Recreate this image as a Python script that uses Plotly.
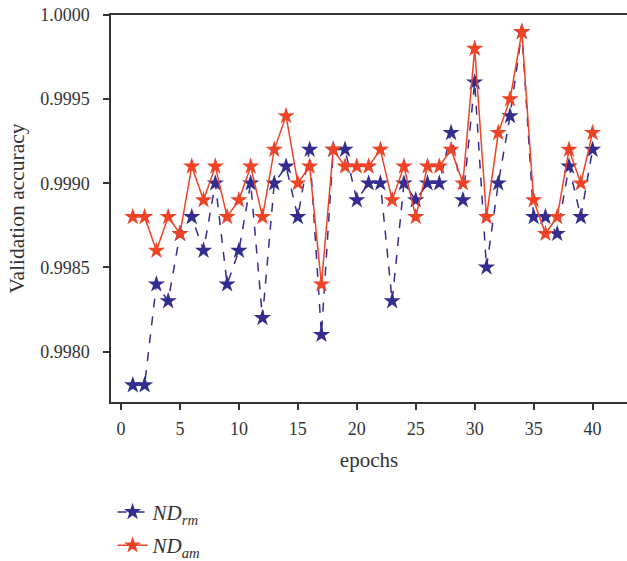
import plotly.graph_objects as go

epochs = list(range(1, 41))
nd_rm = [0.9978, 0.9978, 0.9984, 0.9983, 0.9987, 0.9988, 0.9986, 0.9990, 0.9984, 0.9986,
         0.9990, 0.9982, 0.9990, 0.9991, 0.9988, 0.9992, 0.9981, 0.9992, 0.9992, 0.9989,
         0.9990, 0.9990, 0.9983, 0.9990, 0.9989, 0.9990, 0.9990, 0.9993, 0.9989, 0.9996,
         0.9985, 0.9990, 0.9994, 0.9999, 0.9988, 0.9988, 0.9987, 0.9991, 0.9988, 0.9992]
nd_am = [0.9988, 0.9988, 0.9986, 0.9988, 0.9987, 0.9991, 0.9989, 0.9991, 0.9988, 0.9989,
         0.9991, 0.9988, 0.9992, 0.9994, 0.9990, 0.9991, 0.9984, 0.9992, 0.9991, 0.9991,
         0.9991, 0.9992, 0.9989, 0.9991, 0.9988, 0.9991, 0.9991, 0.9992, 0.9990, 0.9998,
         0.9988, 0.9993, 0.9995, 0.9999, 0.9989, 0.9987, 0.9988, 0.9992, 0.9990, 0.9993]
x_ticks = [0, 5, 10, 15, 20, 25, 30, 35, 40]
y_ticks = [0.9980, 0.9985, 0.9990, 0.9995, 1.0000]
y_labels = ["0.9980", "0.9985", "0.9990", "0.9995", "1.0000"]

BLUE = "#322d8e"
RED = "#ef4327"
FONT = "Liberation Serif"
TXT = "#333333"

fig = go.Figure()
fig.add_trace(go.Scatter(
    x=epochs, y=nd_rm, mode="lines+markers", name="<i>ND<sub>rm</sub></i>",
    legendgroup="a",
    line=dict(color=BLUE, width=1.5, dash="dash"),
    marker=dict(symbol="star", size=13, color=BLUE, line=dict(width=0)),
))
fig.add_trace(go.Scatter(
    x=epochs, y=nd_am, mode="lines+markers", name="<i>ND<sub>am</sub></i>",
    legendgroup="b",
    line=dict(color=RED, width=1.5),
    marker=dict(symbol="star", size=13, color=RED, line=dict(width=0)),
))

axis_common = dict(showline=True, linecolor=TXT, linewidth=1.5, ticks="outside",
                   tickcolor=TXT, tickwidth=1.5, ticklen=6, showgrid=False, zeroline=False,
                   tickfont=dict(family=FONT, size=18, color=TXT))

fig.update_layout(
    width=627, height=561,
    margin=dict(l=111, r=0, t=15, b=159, autoexpand=False),
    plot_bgcolor="white", paper_bgcolor="white",
    font=dict(family=FONT, color=TXT),
    xaxis=dict(range=[-0.85, 42.92], tickvals=x_ticks, mirror=True, ticklabelstandoff=4,
               title=dict(text="epochs", font=dict(family=FONT, size=21, color=TXT), standoff=14),
               **axis_common),
    yaxis=dict(range=[0.99770, 1.0000], tickvals=y_ticks, ticktext=y_labels, mirror=False,
               ticklabelstandoff=10,
               title=dict(text="Validation accuracy", font=dict(family=FONT, size=21.5, color=TXT), standoff=10),
               **axis_common),
    legend=dict(x=0.003, y=-0.232, xanchor="left", yanchor="top",
                font=dict(family=FONT, size=21, color=TXT),
                tracegroupgap=3, bgcolor="rgba(0,0,0,0)"),
    showlegend=True,
)

fig.write_html("out.html")
